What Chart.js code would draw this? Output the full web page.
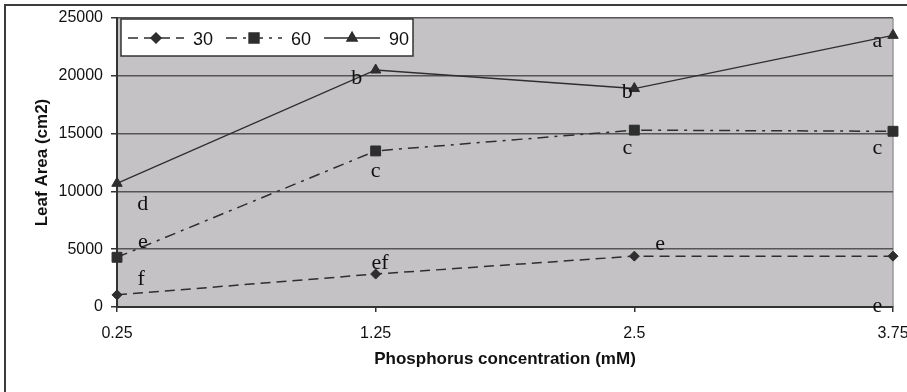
<!DOCTYPE html>
<html>
<head>
<meta charset="utf-8">
<script src="https://cdn.jsdelivr.net/npm/chart.js@4/dist/chart.umd.min.js"></script>
<style>
  html, body { margin: 0; padding: 0; background: #fff; }
  #wrap { width: 907px; height: 392px; }
</style>
</head>
<body>
<div id="wrap"><canvas id="c" width="907" height="392"></canvas></div>
<script>
// ---- data ----
const categories = ['0.25', '1.25', '2.5', '3.75'];
const seriesNames = ['30', '60', '90'];
const series30 = [1050, 2850, 4400, 4400];
const series60 = [4300, 13500, 15300, 15200];
const series90 = [10700, 20500, 18900, 23500];
const yTickValues = [0, 5000, 10000, 15000, 20000, 25000];
const xTitle = 'Phosphorus concentration (mM)';
const yTitle = 'Leaf Area (cm2)';
// significance letters: text, category position, value position (baseline)
const letterText = ['a', 'b', 'b', 'c', 'c', 'c', 'd', 'e', 'f', 'ef', 'e', 'e'];
const letterCat  = [2.94, 0.927, 1.973, 1.0, 1.973, 2.94, 0.1, 0.1, 0.093, 1.017, 2.1, 2.94];
const letterVal  = [22500, 19250, 18040, 11250, 13240, 13240, 8350, 5110, 1900, 3330, 4940, -430];

const lineColor = '#2e2e2e';

const styles = [
  { dash: [10, 6], point: 'rectRot', radius: 5, width: 1.5 },
  { dash: [11, 6, 3, 6], point: 'rect', radius: 7, width: 1.5 },
  { dash: [], point: 'triangle', radius: 6, width: 1.3 }
];
const values = [series30, series60, series90];

const datasets = values.map((v, i) => ({
  label: seriesNames[i],
  data: v,
  borderColor: lineColor,
  backgroundColor: lineColor,
  borderWidth: styles[i].width,
  borderDash: styles[i].dash,
  pointStyle: styles[i].point,
  pointRadius: styles[i].radius,
  pointBorderWidth: 1,
  pointBackgroundColor: lineColor,
  pointBorderColor: lineColor,
  tension: 0,
  fill: false,
  clip: false
}));

const decor = {
  id: 'decor',
  beforeDraw(chart) {
    const { ctx, chartArea: a } = chart;
    ctx.save();
    ctx.fillStyle = '#fff';
    ctx.fillRect(0, 0, chart.width, chart.height);
    // outer frame
    ctx.strokeStyle = '#3c3c3c';
    ctx.lineWidth = 2;
    ctx.strokeRect(5, 5, chart.width + 20, chart.height + 20);
    // plot background
    ctx.fillStyle = '#c4c2c5';
    ctx.fillRect(a.left, a.top, a.right - a.left, a.bottom - a.top);
    ctx.strokeStyle = '#9a9a9a';
    ctx.lineWidth = 1.5;
    ctx.beginPath();
    ctx.moveTo(a.right, a.top);
    ctx.lineTo(a.right, a.bottom);
    ctx.stroke();
    ctx.restore();
  },
  afterDatasetsDraw(chart) {
    const { ctx, chartArea: a, scales: { x, y } } = chart;
    ctx.save();
    // letters
    ctx.fillStyle = '#111';
    ctx.font = '22px "Liberation Serif", "DejaVu Serif", serif';
    ctx.textAlign = 'center';
    ctx.textBaseline = 'alphabetic';
    letterText.forEach((t, i) => {
      ctx.fillText(t, x.getPixelForValue(letterCat[i]), y.getPixelForValue(letterVal[i]));
    });
    // legend
    const bx = a.left + 4, by = a.top + 1, bw = 292, bh = 37;
    ctx.fillStyle = '#fff';
    ctx.fillRect(bx, by, bw, bh);
    ctx.strokeStyle = '#333';
    ctx.lineWidth = 1.5;
    ctx.strokeRect(bx, by, bw, bh);
    const cy = by + 19;
    let cx = bx + 7;
    ctx.font = '18px "Liberation Sans", Arial, sans-serif';
    ctx.textAlign = 'left';
    ctx.textBaseline = 'middle';
    chart.data.datasets.forEach((ds, i) => {
      const sw = 56;
      ctx.strokeStyle = lineColor;
      ctx.lineWidth = ds.borderWidth;
      ctx.setLineDash(ds.borderDash);
      ctx.beginPath();
      ctx.moveTo(cx, cy);
      ctx.lineTo(cx + sw, cy);
      ctx.stroke();
      ctx.setLineDash([]);
      Chart.helpers.drawPoint(ctx, {
        pointStyle: ds.pointStyle, radius: ds.pointRadius, borderWidth: 1, rotation: 0
      }, cx + sw / 2, cy);
      ctx.fillStyle = lineColor;
      ctx.strokeStyle = lineColor;
      ctx.fill();
      ctx.fillStyle = '#111';
      ctx.fillText(ds.label, cx + sw + 9, cy + 2);
      cx += sw + 9 + ctx.measureText(ds.label).width + 13;
    });
    ctx.restore();
  }
};

new Chart(document.getElementById('c'), {
  type: 'line',
  data: { labels: categories, datasets },
  options: {
    responsive: false,
    animation: false,
    layout: { padding: { top: 18, right: 14, bottom: 0, left: 0 } },
    plugins: { legend: { display: false }, tooltip: { enabled: false } },
    scales: {
      x: {
        offset: false,
        grid: { drawOnChartArea: false, drawTicks: true, tickLength: 5, tickColor: '#333', lineWidth: 1.5 },
        border: { color: '#333', width: 2 },
        ticks: { color: '#111', padding: 12, maxRotation: 0, font: { family: '"Liberation Sans", Arial, sans-serif', size: 16 } },
        title: { display: true, text: xTitle, color: '#111', padding: { top: 0, bottom: 22 },
                 font: { family: '"Liberation Sans", Arial, sans-serif', size: 17, weight: 'bold' } },
        afterFit(s) { s.height = 85; s.paddingLeft = 0; s.paddingRight = 0; }
      },
      y: {
        min: 0, max: 25000,
        afterBuildTicks(s) { s.ticks = yTickValues.map(v => ({ value: v })); },
        grid: { color: '#555', lineWidth: 1.5, tickLength: 6, tickColor: '#333' },
        border: { color: '#333', width: 2 },
        ticks: { color: '#111', padding: 8, callback: v => String(v),
                 font: { family: '"Liberation Sans", Arial, sans-serif', size: 16 } },
        title: { display: true, text: yTitle, color: '#111', padding: { top: 32, bottom: 0 },
                 font: { family: '"Liberation Sans", Arial, sans-serif', size: 17, weight: 'bold' } },
        afterFit(s) { s.width = 117; s.paddingTop = 0; s.paddingBottom = 0; }
      }
    }
  },
  plugins: [decor]
});
</script>
</body>
</html>
